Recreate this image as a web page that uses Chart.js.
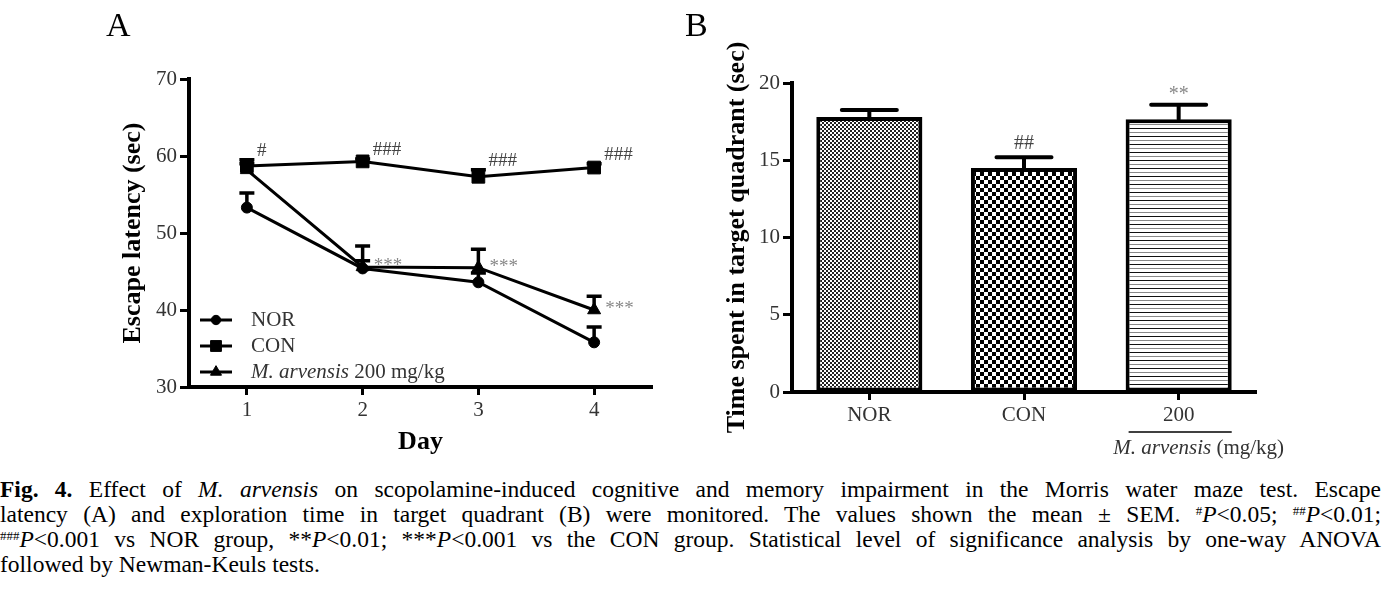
<!DOCTYPE html>
<html>
<head>
<meta charset="utf-8">
<script src="https://cdn.jsdelivr.net/npm/chart.js@4.4.0/dist/chart.umd.min.js"></script>
<style>
  body { margin: 0; background: #fff; width: 1395px; height: 602px; overflow: hidden; position: relative; font-family: 'Liberation Serif', serif; }
  #wrapA { position: absolute; left: 0; top: 0; width: 680px; height: 470px; }
  #wrapB { position: absolute; left: 680px; top: 0; width: 715px; height: 470px; }
  .panel { position: absolute; font-size: 34px; line-height: 34px; color: #000; }
  .cap { position: absolute; left: 0; top: 477px; width: 1381px; font-size: 23.5px; line-height: 25px; color: #000; }
  .cap div { text-align: justify; text-align-last: justify; white-space: nowrap; }
  .cap div.last { text-align-last: left; }
  .cap sup { font-size: 13px; line-height: 0; vertical-align: 7px; }
</style>
</head>
<body>
<div id="wrapA"><canvas id="chartA" width="680" height="470"></canvas></div>
<div id="wrapB"><canvas id="chartB" width="715" height="470"></canvas></div>
<div class="panel" style="left:106px;top:8px">A</div>
<div class="panel" style="left:685px;top:8px">B</div>
<div class="cap">
  <div><b>Fig. 4.</b> Effect of <i>M. arvensis</i> on scopolamine-induced cognitive and memory impairment in the Morris water maze test. Escape</div>
  <div>latency (A) and exploration time in target quadrant (B) were monitored. The values shown the mean ± SEM. <sup>#</sup><i>P</i>&lt;0.05; <sup>##</sup><i>P</i>&lt;0.01;</div>
  <div><sup>###</sup><i>P</i>&lt;0.001 vs NOR group, **<i>P</i>&lt;0.01; ***<i>P</i>&lt;0.001 vs the CON group. Statistical level of significance analysis by one-way ANOVA</div>
  <div class="last">followed by Newman-Keuls tests.</div>
</div>
<script>
// panel A: escape latency per day
const days = [1, 2, 3, 4];
const seriesNames = ['NOR', 'CON', 'M. arvensis 200 mg/kg'];
const norMean = [53.3, 45.4, 43.6, 35.8];
const norSem = [1.9, 1.0, 1.2, 2.0];
const conMean = [58.7, 59.3, 57.3, 58.5];
const conSem = [0.8, 0.3, 0.9, 0.5];
const marMean = [58.2, 45.6, 45.5, 40.0];
const marSem = [0.8, 2.7, 2.4, 1.8];
const conMarks = ['#', '###', '###', '###'];
const marMarks = ['', '***', '***', '***'];
const latencyTicks = [30, 40, 50, 60, 70];

// panel B: time in target quadrant
const groups = ['NOR', 'CON', '200'];
const timeMean = [17.8, 14.5, 17.65];
const timeSem = [0.45, 0.7, 0.95];
const groupMarks = ['', '##', '**'];
const timeTicks = [0, 5, 10, 15, 20];

const serif = 'Liberation Serif';
const tickFont = { family: serif, size: 21 };
const titleFont = { family: serif, size: 26, weight: 'bold' };

function pattern(size, draw) {
  const c = document.createElement('canvas');
  c.width = size; c.height = size;
  const g = c.getContext('2d');
  g.fillStyle = '#fff';
  g.fillRect(0, 0, size, size);
  draw(g);
  return g.createPattern(c, 'repeat');
}
const fineCheck = pattern(4, g => { g.fillStyle = '#222'; g.fillRect(0, 0, 2, 2); g.fillRect(2, 2, 2, 2); });
const coarseCheck = pattern(8, g => { g.fillStyle = '#000'; g.fillRect(0, 0, 4, 4); g.fillRect(4, 4, 4, 4); });
const hLines = pattern(8, g => { g.fillStyle = '#111'; g.fillRect(0, 0, 8, 1); g.fillStyle = '#888'; g.fillRect(0, 4, 8, 1); });

const toXY = arr => arr.map((v, i) => ({ x: days[i], y: v }));

// upward error bars (mean + SEM) drawn from each element
const errorBars = {
  id: 'errorBars',
  afterDatasetsDraw(chart, args, opts) {
    const { ctx } = chart;
    const y = chart.scales.y;
    ctx.save();
    ctx.strokeStyle = '#000';
    ctx.lineWidth = opts.width;
    ctx.lineCap = opts.cap;
    chart.data.datasets.forEach((ds, i) => {
      const meta = chart.getDatasetMeta(i);
      meta.data.forEach((el, j) => {
        const v = ds.data[j];
        const mean = typeof v === 'object' ? v.y : v;
        const top = y.getPixelForValue(mean + ds.sem[j]);
        ctx.beginPath();
        ctx.moveTo(el.x, el.y);
        ctx.lineTo(el.x, top);
        ctx.moveTo(el.x - opts.capWidth / 2, top);
        ctx.lineTo(el.x + opts.capWidth / 2, top);
        ctx.stroke();
      });
    });
    ctx.restore();
  }
};

// significance marks and legend for panel A
const panelAExtras = {
  id: 'panelAExtras',
  afterDraw(chart) {
    const { ctx } = chart;
    const y = chart.scales.y;
    ctx.save();
    ctx.font = '19px ' + serif;
    ctx.textAlign = 'left';
    ctx.textBaseline = 'middle';
    chart.getDatasetMeta(1).data.forEach((el, j) => {
      if (!conMarks[j]) return;
      ctx.fillStyle = '#444';
      ctx.fillText(conMarks[j], el.x + 10, y.getPixelForValue(conMean[j] + conSem[j]) - 9);
    });
    chart.getDatasetMeta(2).data.forEach((el, j) => {
      if (!marMarks[j]) return;
      ctx.fillStyle = '#888';
      ctx.fillText(marMarks[j], el.x + 11, el.y - 1);
    });

    // legend: line with marker, then label
    const area = chart.chartArea;
    const lx = area.left + 11, ly0 = area.bottom - 67;
    chart.data.datasets.forEach((ds, i) => {
      const ly = ly0 + i * 26;
      ctx.strokeStyle = '#000';
      ctx.fillStyle = '#000';
      ctx.lineWidth = 3;
      ctx.beginPath();
      ctx.moveTo(lx, ly);
      ctx.lineTo(lx + 32, ly);
      ctx.stroke();
      ctx.lineWidth = 1;
      Chart.helpers.drawPoint(ctx, { pointStyle: ds.pointStyle, radius: ds.pointRadius * 0.85, rotation: 0, borderWidth: 1 }, lx + 16, ly);
      ctx.fillStyle = '#333';
      let tx = lx + 51;
      const name = ds.label;
      const italic = 'M. arvensis';
      if (name.startsWith(italic)) {
        ctx.font = 'italic 21px ' + serif;
        ctx.fillText(italic, tx, ly);
        tx += ctx.measureText(italic).width;
        ctx.font = '21px ' + serif;
        ctx.fillText(name.slice(italic.length), tx, ly);
      } else {
        ctx.font = '21px ' + serif;
        ctx.fillText(name, tx, ly);
      }
    });
    ctx.restore();
  }
};

new Chart(document.getElementById('chartA'), {
  type: 'line',
  data: {
    datasets: [
      { label: seriesNames[0], data: toXY(norMean), sem: norSem, pointStyle: 'circle', pointRadius: 5.5 },
      { label: seriesNames[1], data: toXY(conMean), sem: conSem, pointStyle: 'rect', pointRadius: 9 },
      { label: seriesNames[2], data: toXY(marMean), sem: marSem, pointStyle: 'triangle', pointRadius: 7.5 }
    ].map(d => Object.assign(d, {
      borderColor: '#000', backgroundColor: '#000', borderWidth: 3, tension: 0,
      pointBackgroundColor: '#000', pointBorderColor: '#000', pointBorderWidth: 1
    }))
  },
  options: {
    responsive: false,
    animation: false,
    layout: { padding: { left: 0, top: 79, right: 28, bottom: 0 } },
    plugins: {
      legend: { display: false },
      tooltip: { enabled: false },
      errorBars: { width: 3.5, capWidth: 15, cap: 'butt' }
    },
    scales: {
      x: {
        type: 'linear', min: 0.5, max: 4.5,
        afterBuildTicks: s => { s.ticks = days.map(v => ({ value: v })); },
        afterFit: s => { s.height = 83; },
        grid: { drawOnChartArea: false, tickLength: 8, tickWidth: 3, tickColor: '#000' },
        border: { color: '#000', width: 4 },
        ticks: { color: '#333', font: tickFont, padding: 3 },
        title: { display: true, text: 'Day', color: '#000', font: titleFont, padding: { top: 0, bottom: 12 } }
      },
      y: {
        min: 30, max: 70,
        afterBuildTicks: s => { s.ticks = latencyTicks.map(v => ({ value: v })); },
        afterFit: s => { s.width = 189; },
        grid: { drawOnChartArea: false, tickLength: 9, tickWidth: 3, tickColor: '#000' },
        border: { color: '#000', width: 4 },
        ticks: { color: '#333', font: tickFont, padding: 3 },
        title: { display: true, text: 'Escape latency (sec)', color: '#000', font: titleFont, padding: { top: 118, bottom: 0 } }
      }
    }
  },
  plugins: [errorBars, panelAExtras]
});

// marks and the dose bracket for panel B
const panelBExtras = {
  id: 'panelBExtras',
  afterDraw(chart) {
    const { ctx } = chart;
    const y = chart.scales.y;
    const els = chart.getDatasetMeta(0).data;
    ctx.save();
    ctx.font = '20px ' + serif;
    ctx.textAlign = 'center';
    ctx.textBaseline = 'bottom';
    els.forEach((el, j) => {
      if (!groupMarks[j]) return;
      ctx.fillStyle = groupMarks[j].startsWith('#') ? '#444' : '#888';
      ctx.fillText(groupMarks[j], el.x, y.getPixelForValue(timeMean[j] + timeSem[j]) - (groupMarks[j].startsWith('#') ? 3 : 0));
    });
    const bar = els[2];
    const left = bar.x - bar.width / 2, right = bar.x + bar.width / 2;
    ctx.strokeStyle = '#000';
    ctx.lineWidth = 1.5;
    ctx.beginPath();
    ctx.moveTo(left + 3, 432);
    ctx.lineTo(right, 432);
    ctx.stroke();
    ctx.fillStyle = '#333';
    ctx.textAlign = 'left';
    ctx.textBaseline = 'middle';
    ctx.font = 'italic 21px ' + serif;
    const it = 'M. arvensis';
    const rest = ' (mg/kg)';
    const wIt = ctx.measureText(it).width;
    ctx.font = '21px ' + serif;
    const wRest = ctx.measureText(rest).width;
    const tx = bar.x + 20 - (wIt + wRest) / 2;
    ctx.font = 'italic 21px ' + serif;
    ctx.fillText(it, tx, 448);
    ctx.font = '21px ' + serif;
    ctx.fillText(rest, tx + wIt, 448);
    ctx.restore();
  }
};

new Chart(document.getElementById('chartB'), {
  type: 'bar',
  data: {
    labels: groups,
    datasets: [{
      data: timeMean,
      sem: timeSem,
      backgroundColor: [fineCheck, coarseCheck, hLines],
      borderColor: '#000',
      borderWidth: 4,
      borderSkipped: false,
      categoryPercentage: 1,
      barPercentage: 0.686
    }]
  },
  options: {
    responsive: false,
    animation: false,
    layout: { padding: { left: 0, top: 83, right: 139, bottom: 0 } },
    plugins: {
      legend: { display: false },
      tooltip: { enabled: false },
      errorBars: { width: 4, capWidth: 55, cap: 'round' }
    },
    scales: {
      x: {
        afterFit: s => { s.height = 78; },
        grid: { offset: false, drawOnChartArea: false, tickLength: 8, tickWidth: 3, tickColor: '#000' },
        border: { color: '#000', width: 4 },
        ticks: { color: '#333', font: tickFont, padding: 3 }
      },
      y: {
        min: 0, max: 20,
        afterBuildTicks: s => { s.ticks = timeTicks.map(v => ({ value: v })); },
        afterFit: s => { s.width = 112; },
        grid: { drawOnChartArea: false, tickLength: 9, tickWidth: 3, tickColor: '#000' },
        border: { color: '#000', width: 4 },
        ticks: { color: '#333', font: tickFont, padding: 3 },
        title: { display: true, text: 'Time spent in target quadrant (sec)', color: '#000', font: titleFont, padding: { top: 42, bottom: 0 } }
      }
    }
  },
  plugins: [errorBars, panelBExtras]
});
</script>
</body>
</html>
